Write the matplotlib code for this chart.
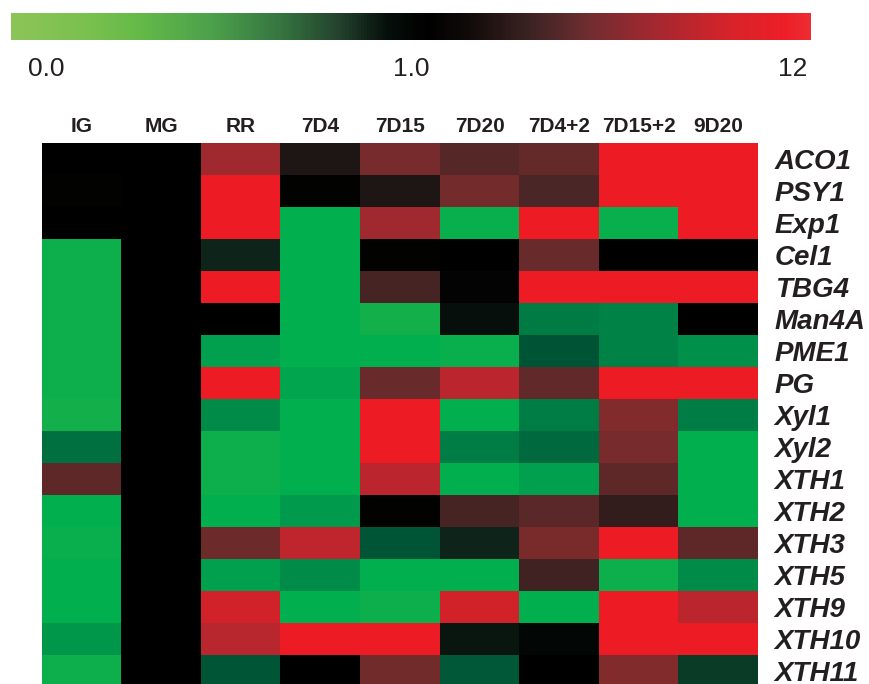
import numpy as np
import matplotlib
matplotlib.use("Agg")
import matplotlib.pyplot as plt
from matplotlib.colors import LinearSegmentedColormap, TwoSlopeNorm
from matplotlib.cm import ScalarMappable

# expression relative to MG (fold change)
samples = ["IG", "MG", "RR", "7D4", "7D15", "7D20", "7D4+2", "7D15+2", "9D20"]
genes = ["ACO1", "PSY1", "Exp1", "Cel1", "TBG4", "Man4A", "PME1", "PG",
         "Xyl1", "Xyl2", "XTH1", "XTH2", "XTH3", "XTH5", "XTH9", "XTH10", "XTH11"]

ACO1 = [1.0, 1.0, 8.2, 2.3, 6.5, 4.8, 5.6, 12, 12]
PSY1 = [1.15, 1.0, 12, 1.15, 2.3, 6.4, 4.3, 12, 12]
Exp1 = [1.0, 1.0, 12, 0.05, 8.2, 0.03, 12, 0.03, 12]
Cel1 = [0.02, 1.0, 0.85, 0.05, 1.15, 1.0, 5.8, 1.0, 1.0]
TBG4 = [0.02, 1.0, 12, 0.05, 4.1, 1.2, 12, 12, 12]
Man4A = [0.02, 1.0, 1.0, 0.05, 0.0, 0.93, 0.31, 0.28, 1.0]
PME1 = [0.02, 1.0, 0.12, 0.05, 0.05, 0.03, 0.53, 0.28, 0.2]
PG = [0.02, 1.0, 12, 0.1, 5.8, 9.6, 5.4, 12, 12]
Xyl1 = [0.0, 1.0, 0.22, 0.05, 12, 0.05, 0.3, 7.0, 0.3]
Xyl2 = [0.37, 1.0, 0.02, 0.05, 12, 0.3, 0.41, 6.5, 0.05]
XTH1 = [5.3, 1.0, 0.02, 0.05, 9.6, 0.05, 0.12, 5.3, 0.05]
XTH2 = [0.05, 1.0, 0.05, 0.15, 1.15, 4.1, 5.1, 3.2, 0.05]
XTH3 = [0.03, 1.0, 6.0, 9.8, 0.52, 0.85, 6.6, 12, 5.3]
XTH5 = [0.05, 1.0, 0.12, 0.22, 0.05, 0.05, 3.8, 0.02, 0.22]
XTH9 = [0.05, 1.0, 10.9, 0.05, 0.02, 10.9, 0.05, 12, 9.6]
XTH10 = [0.17, 1.0, 9.5, 12, 12, 0.9, 0.97, 12, 12]
XTH11 = [0.02, 1.0, 0.52, 1.0, 6.3, 0.5, 1.0, 7.0, 0.72]

data = np.array([ACO1, PSY1, Exp1, Cel1, TBG4, Man4A, PME1, PG, Xyl1, Xyl2,
                 XTH1, XTH2, XTH3, XTH5, XTH9, XTH10, XTH11])

scale_ticks = [0, 1, 12]
scale_labels = ["0.0", "1.0", "12"]

TXT = "#231f20"

# colours of the cells: green -> black -> red
norm = TwoSlopeNorm(vmin=0, vcenter=1, vmax=12)
cell_nodes = [
    (0.0, (18, 175, 75)), (0.05, (0, 176, 80)), (0.12, (0, 160, 78)),
    (0.22, (0, 140, 72)), (0.3, (0, 125, 68)), (0.37, (0, 112, 64)),
    (0.52, (0, 85, 55)), (0.72, (10, 60, 40)), (0.85, (15, 35, 25)),
    (1.0, (0, 0, 0)), (2.3, (30, 22, 20)), (4.3, (75, 38, 38)),
    (6.5, (118, 44, 44)), (8.2, (160, 42, 48)), (9.8, (190, 38, 46)),
    (10.9, (208, 35, 43)), (12, (237, 28, 36)),
]
cell_cmap = LinearSegmentedColormap.from_list(
    "cells", [(float(norm(v)), np.array(c) / 255) for v, c in cell_nodes])

# the legend bar at the top has its own, softer gradient
bar_nodes = [
    (0.0, (140, 196, 88)), (0.1, (120, 192, 78)), (0.16, (100, 185, 72)),
    (0.25, (75, 160, 75)), (0.33, (55, 120, 65)), (0.41, (35, 65, 45)),
    (0.47, (5, 15, 10)), (0.52, (0, 0, 0)), (0.57, (15, 10, 8)),
    (0.65, (60, 35, 35)), (0.72, (110, 45, 48)), (0.8, (160, 40, 48)),
    (0.9, (215, 35, 42)), (0.97, (237, 30, 38)), (1.0, (237, 45, 50)),
]
bar_cmap = LinearSegmentedColormap.from_list(
    "bar", [(p, np.array(c) / 255) for p, c in bar_nodes])
bar_norm = TwoSlopeNorm(vmin=-0.096, vcenter=1, vmax=12.53)

plt.rcParams["font.family"] = ["Liberation Sans", "DejaVu Sans"]

fig = plt.figure(figsize=(8.69, 6.84), dpi=100)

# heatmap
ax = fig.add_axes([42 / 869, -3 / 684, 716 / 869, 544 / 684])
ax.imshow(data, cmap=cell_cmap, norm=norm, aspect="auto", interpolation="nearest")
ax.set_xticks(range(len(samples)))
ax.set_xticklabels(samples, fontsize=15, fontweight="bold", color=TXT)
ax.set_yticks(range(len(genes)))
ax.set_yticklabels(genes, fontsize=20, fontweight="bold", fontstyle="italic", color=TXT)
ax.xaxis.tick_top()
ax.yaxis.tick_right()
ax.tick_params(axis="x", length=0, pad=5)
ax.tick_params(axis="y", length=0, pad=12)
for s in ax.spines.values():
    s.set_visible(False)

# colour scale
cax = fig.add_axes([11 / 869, 1 - 40 / 684, 800 / 869, 27 / 684])
cb = fig.colorbar(ScalarMappable(norm=bar_norm, cmap=bar_cmap), cax=cax,
                  orientation="horizontal")
cb.outline.set_visible(False)
cb.set_ticks(scale_ticks)
cb.set_ticklabels(scale_labels)
cax.tick_params(length=0, pad=12, labelsize=19, labelcolor=TXT)
cax.minorticks_off()

fig.savefig("out.png", dpi=100)
